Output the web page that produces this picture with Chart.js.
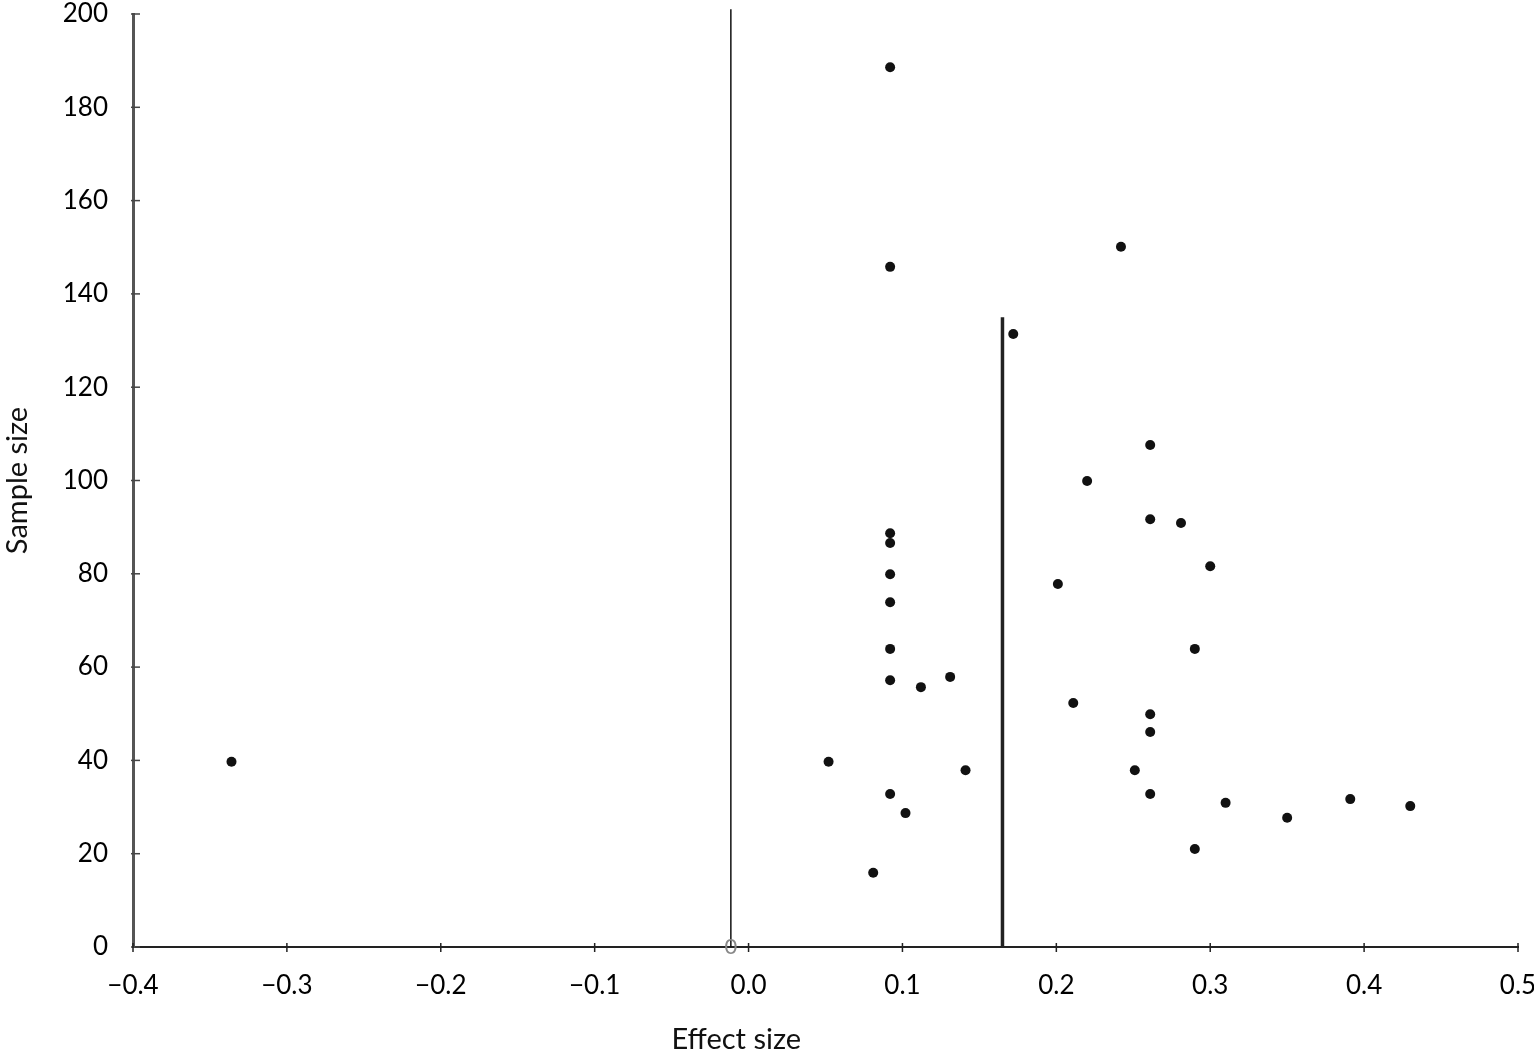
<!DOCTYPE html>
<html>
<head>
<meta charset="utf-8">
<script src="https://cdn.jsdelivr.net/npm/chart.js@4.4.1/dist/chart.umd.min.js"></script>
<style>
  html, body { margin: 0; padding: 0; background: #fff; }
  #wrap { width: 1534px; height: 1060px; }
</style>
</head>
<body>
<div id="wrap"><canvas id="c"></canvas></div>
<script>
// funnel plot: effect size vs sample size
const effectSize = [0.092, 0.242, 0.092, 0.172, 0.261, 0.220, 0.261, 0.281, 0.092, 0.092,
                    0.300, 0.092, 0.201, 0.092, 0.290, 0.092, 0.131, 0.092, 0.112, 0.211,
                    0.261, 0.261, -0.336, 0.052, 0.141, 0.251, 0.092, 0.261, 0.391, 0.310,
                    0.430, 0.102, 0.350, 0.290, 0.081];
const sampleSize = [188.6, 150.1, 145.8, 131.4, 107.6, 99.9, 91.7, 90.9, 88.7, 86.6,
                    81.6, 79.9, 77.8, 73.9, 63.9, 63.9, 57.9, 57.2, 55.7, 52.3,
                    49.9, 46.1, 39.7, 39.7, 37.9, 37.9, 32.8, 32.8, 31.7, 30.9,
                    30.2, 28.7, 27.7, 21.0, 15.9];
const nullLineX = -0.0115;   // thin reference line
const nullLineTop = 201;
const meanLineX = 0.165;     // pooled effect line
const meanLineTop = 135;
const xTicks = [-0.4, 0.5, 0.1];   // min, max, step
const yTicks = [0, 200, 20];
const xTitle = 'Effect size';
const xTitleAt = -0.008;     // the title sits left of centre in the original

const FONT = 'Lato, "DejaVu Sans", sans-serif';

// inner tick marks, x title and the stray "0" label near the thin line
const tickMarks = {
    id: 'tickMarks',
    afterDraw(chart) {
        const { ctx, scales: { x, y } } = chart;
        ctx.save();
        ctx.strokeStyle = '#444';
        ctx.lineWidth = 1.5;
        y.ticks.forEach(t => {
            const py = y.getPixelForValue(t.value);
            ctx.beginPath();
            ctx.moveTo(x.left - 2, py);
            ctx.lineTo(x.left + 7, py);
            ctx.stroke();
        });
        ctx.strokeStyle = '#222';
        x.ticks.forEach(t => {
            const px = x.getPixelForValue(t.value);
            ctx.beginPath();
            ctx.moveTo(px, y.bottom - 4);
            ctx.lineTo(px, y.bottom + 5);
            ctx.stroke();
        });
        ctx.fillStyle = '#888';
        ctx.font = '22px ' + FONT;
        ctx.textAlign = 'center';
        ctx.textBaseline = 'middle';
        ctx.fillText('0', x.getPixelForValue(nullLineX), y.bottom);

        ctx.fillStyle = '#111';
        ctx.font = '29px ' + FONT;
        ctx.fillText(xTitle, x.getPixelForValue(xTitleAt), 1040);
        ctx.restore();
    }
};

const fmt = v => {
    const s = Math.abs(v).toFixed(1);
    return v < -1e-9 ? '\u2212' + s : s;
};

new Chart(document.getElementById('c'), {
    type: 'scatter',
    data: {
        datasets: [
            {
                label: 'studies',
                data: effectSize.map((e, i) => ({ x: e, y: sampleSize[i] })),
                backgroundColor: '#111',
                borderColor: '#111',
                pointRadius: 5,
                pointBorderWidth: 0
            },
            {
                type: 'line',
                label: 'null',
                data: [{ x: nullLineX, y: 0 }, { x: nullLineX, y: nullLineTop }],
                borderColor: '#111',
                borderWidth: 1.5,
                pointRadius: 0,
                clip: false
            },
            {
                type: 'line',
                label: 'mean',
                data: [{ x: meanLineX, y: 0 }, { x: meanLineX, y: meanLineTop }],
                borderColor: '#222',
                borderWidth: 3.5,
                pointRadius: 0
            }
        ]
    },
    options: {
        responsive: true,
        maintainAspectRatio: false,
        animation: false,
        layout: { padding: { left: 0, right: 16, top: 14, bottom: 0 } },
        plugins: {
            legend: { display: false },
            tooltip: { enabled: false }
        },
        scales: {
            x: {
                type: 'linear',
                min: xTicks[0], max: xTicks[1],
                afterFit: s => { s.height = 113; s.paddingLeft = 0; s.paddingRight = 0; },
                border: { color: '#222', width: 2 },
                grid: { display: false, drawTicks: false },
                ticks: {
                    stepSize: xTicks[2],
                    color: '#000',
                    padding: 23,
                    font: { family: FONT, size: 26 },
                    callback: v => fmt(v),
                    maxRotation: 0
                }
            },
            y: {
                type: 'linear',
                min: yTicks[0], max: yTicks[1],
                afterFit: s => { s.width = 133; s.paddingTop = 0; s.paddingBottom = 0; },
                border: { color: '#555', width: 3 },
                grid: { display: false, drawTicks: false },
                ticks: {
                    stepSize: yTicks[2],
                    color: '#000',
                    padding: 25,
                    font: { family: FONT, size: 26 }
                },
                title: {
                    display: true,
                    text: 'Sample size',
                    color: '#111',
                    font: { family: FONT, size: 29 },
                    padding: { top: 0, bottom: 4 }
                }
            }
        }
    },
    plugins: [tickMarks]
});
</script>
</body>
</html>
